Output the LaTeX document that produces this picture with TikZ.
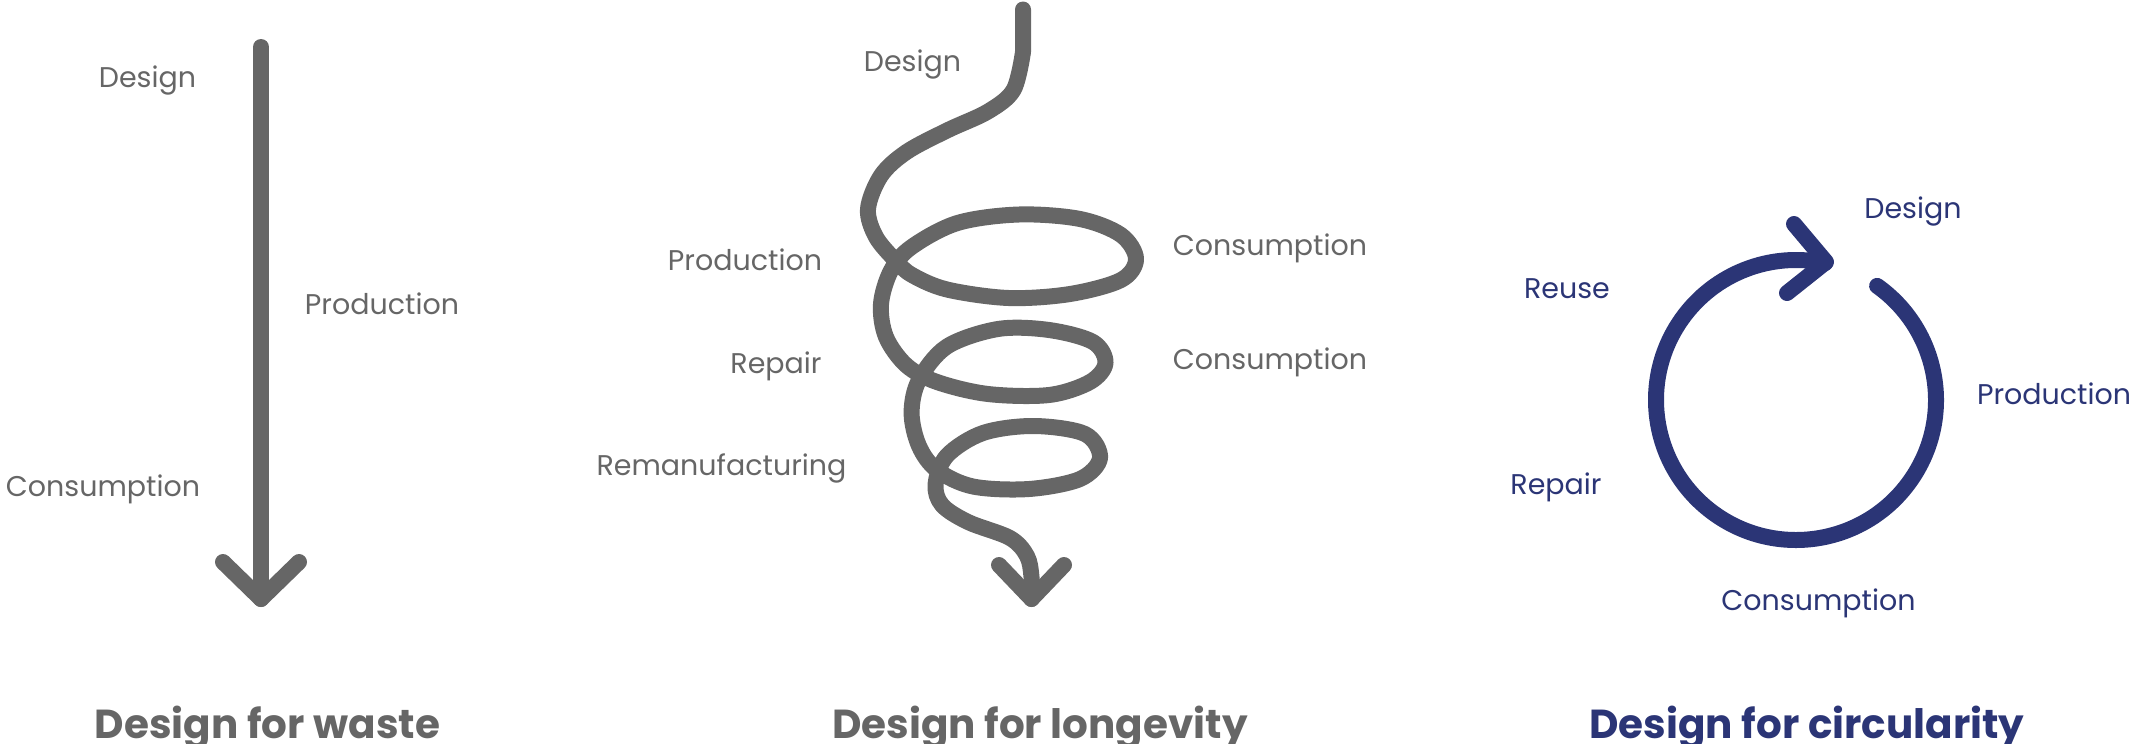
\documentclass[tikz,border=0pt]{standalone}
\usepackage{fontspec}
\setmainfont{Poppins}
\definecolor{grayc}{HTML}{666666}
\definecolor{navy}{HTML}{2B3576}
\begin{document}
\begin{tikzpicture}[x=1pt,y=-1pt,
  lbl/.style={font=\fontsize{28.5}{34}\selectfont, inner sep=0pt, anchor=base},
  ttl/.style={font=\fontsize{40.5}{48}\selectfont\bfseries, inner sep=0pt, anchor=base},
  stroke/.style={line width=16pt, line cap=round, line join=round}]
\useasboundingbox (0,0) rectangle (2131,744);
% ---------- left: design for waste ----------
\coordinate (wtop) at (261,47);
\coordinate (wtip) at (261,599);
\draw[stroke, grayc] (wtop) -- (wtip);
\draw[stroke, grayc] (223,562) -- (wtip) -- (299,562);
\node[lbl, text=grayc] (wdes) at (147.5,87) {Design};
\node[lbl, text=grayc] (wpro) at (382,314) {Production};
\node[lbl, text=grayc] (wcon) at (103,496) {Consumption};
\node[ttl, text=grayc] (wt) at (267.5,738) {Design for waste};
% ---------- middle: design for longevity ----------
\coordinate (ltip) at (1031.5,599);
\draw[stroke, grayc] (1023,9.5) -- (1023,52)
  plot[smooth, tension=0.55] coordinates {
  (1023,52) (1013.5,90) (988,111.5) (947,130.5) (906.5,152) (881,175.6) (868,209) (876,237) (896,261)
  (912,275) (947,289.5) (1008.6,298) (1070,294) (1121,280) (1136,259) (1121,235) (1080,219) (1019,214.5)
  (957.5,223) (911.6,247) (891,270.5) (881,304) (886,337) (906.5,365.5) (937,382) (988,394) (1049,395)
  (1090,382) (1105.5,363) (1093,342) (1049,330) (998,329) (947,346.5) (919,380) (911.6,413) (919,446)
  (937,470) (973,486.5) (1029,489) (1080,479) (1100,458) (1085,434) (1034,426) (983,433) (947,455.6)
  (935.6,484) (942,505) (968,522) (1010,538) (1027,556) (1031.5,577) (1031.5,599)};
\draw[stroke, grayc] (999,565) -- (ltip) -- (1064,565);
\node[lbl, text=grayc] (ldes) at (912.5,71) {Design};
\node[lbl, text=grayc] (lpro) at (745,270.5) {Production};
\node[lbl, text=grayc] (lrep) at (776,373.5) {Repair};
\node[lbl, text=grayc] (lrem) at (721.5,475.6) {Remanufacturing};
\node[lbl, text=grayc] (lcon1) at (1270,255) {Consumption};
\node[lbl, text=grayc] (lcon2) at (1270,369) {Consumption};
\node[ttl, text=grayc] (lt) at (1040,738) {Design for longevity};
% ---------- right: design for circularity ----------
\coordinate (cc) at (1796,400);
\coordinate (ctip) at (1826,262);
\draw[stroke, navy] ([shift={(-54.6:140)}]cc) arc[start angle=-54.6, end angle=282, radius=140];
\draw[stroke, navy] (1794,224) -- (ctip) -- (1787,293);
\node[lbl, text=navy] (cdes) at (1913,218) {Design};
\node[lbl, text=navy] (creu) at (1567,298) {Reuse};
\node[lbl, text=navy] (cpro) at (2054,404.5) {Production};
\node[lbl, text=navy] (crep) at (1556,494.7) {Repair};
\node[lbl, text=navy] (ccon) at (1818.5,610) {Consumption};
\node[ttl, text=navy] (ct) at (1807,738) {Design for circularity};
\end{tikzpicture}
\end{document}
